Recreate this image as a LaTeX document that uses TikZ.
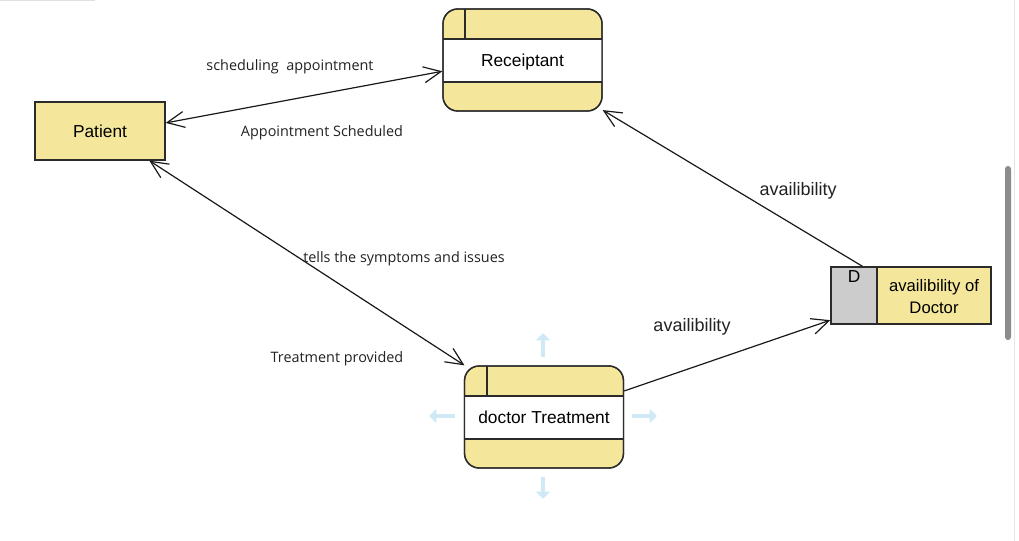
\documentclass[tikz,border=0pt]{standalone}
\usepackage{fontspec}
\setmainfont{Liberation Sans}
\newfontfamily\lblfont{Open Sans}
\usetikzlibrary{arrows.meta,calc}
\definecolor{dfdyellow}{HTML}{F4E79C}
\definecolor{dfdgray}{HTML}{CCCCCC}
\definecolor{dfdline}{HTML}{2B2B2B}
\definecolor{hoverblue}{HTML}{CFE9F7}
\definecolor{lbltext}{HTML}{222222}
\tikzset{
  entitybox/.style={draw=dfdline, line width=1pt, fill=dfdyellow, minimum width=97.5pt, minimum height=43.5pt, inner sep=0pt, font=\fontsize{13pt}{15pt}\selectfont},
  procbox/.style={draw=dfdline, line width=1pt, fill=dfdyellow, rounded corners=11pt, minimum width=119.25pt, minimum height=76.5pt, inner sep=0pt},
  storebox/.style={draw=dfdline, line width=1pt, fill=dfdyellow, minimum width=120pt, minimum height=42.75pt, inner sep=0pt},
  nodetext/.style={font=\fontsize{13pt}{16pt}\selectfont, text=black, align=center, inner sep=0pt, text depth=0pt},
  flowlabel/.style={font=\lblfont\fontsize{10.8pt}{12pt}\selectfont, text=lbltext, inner sep=0pt, text depth=0pt},
  biglabel/.style={font=\fontsize{13.5pt}{16pt}\selectfont, text=lbltext, inner sep=0pt, text depth=0pt},
  flow/.style={draw=black!90, line width=0.9pt, {Straight Barb[length=13pt,width=12pt]}-{Straight Barb[length=13pt,width=12pt]}},
  flowto/.style={draw=black!90, line width=0.9pt, -{Straight Barb[length=13pt,width=12pt]}},
  hover/.style={draw=hoverblue, line width=3.4pt, -{Triangle[length=5.5pt,width=10.5pt]}},
  divider/.style={draw=dfdline, line width=1pt}
}
\begin{document}
\begin{tikzpicture}[x=0.75pt,y=-0.75pt]
\useasboundingbox (0,0) rectangle (1019,541);
\fill[white] (0,0) rectangle (1019,541);
% screenshot chrome
\draw[draw=black!12, line width=0.75pt] (0,0.6) -- (95,0.6);
\draw[draw=black!10, line width=0.75pt] (1014,0) -- (1014,541);
\fill[black!45, rounded corners=2.2pt] (1005,166) rectangle (1011,340);

% Patient
\node[entitybox] (pat) at (100,131) {Patient};

% Receiptant process
\node[procbox] (rec) at (522.5,60) {};
\fill[white] (443.5,39) rectangle (601.5,82);
\draw[divider] (443,39) -- (602,39);
\draw[divider] (443,82) -- (602,82);
\draw[divider] (465,9) -- (465,39);
\node[procbox, fill=none] at (522.5,60) {};
\node[nodetext] (rect) at (522.5,60) {Receiptant};

% doctor Treatment process
\node[procbox] (doc) at (544,417) {};
\fill[white] (464.5,396) rectangle (623.5,439);
\draw[divider] (464,396) -- (624,396);
\draw[divider] (464,439) -- (624,439);
\draw[divider] (487,366) -- (487,396);
\node[procbox, fill=none] at (544,417) {};
\node[nodetext] (doct) at (544,417) {doctor Treatment};

% Data store
\node[storebox] (store) at (911,295.5) {};
\fill[dfdgray] (831,267) rectangle (877,324);
\draw[divider] (877,267) -- (877,324);
\node[storebox, fill=none] at (911,295.5) {};
\node[nodetext] (dlabel) at (854,276.5) {D};
\node[nodetext, font=\fontsize{12.5pt}{16.5pt}\selectfont] (stext) at (934,296) {availibility of\\Doctor};

% hover arrows
\coordinate (hu1) at (543,357); \coordinate (hu2) at (543,333);
\coordinate (hd1) at (543,477); \coordinate (hd2) at (543,499);
\coordinate (hl1) at (455,416); \coordinate (hl2) at (429,416);
\coordinate (hr1) at (632,416); \coordinate (hr2) at (657,416);
\draw[hover] (hu1) -- (hu2);
\draw[hover] (hd1) -- (hd2);
\draw[hover] (hl1) -- (hl2);
\draw[hover] (hr1) -- (hr2);

% flows
\draw[flow] (pat.7.9) -- (rec.188.6);
\draw[flow] (pat.-31.7) -- (doc.147.2);
\draw[flowto] (store.149.8) -- (rec.-32.2);
\draw[flowto] (doc.18.6) -- (store.197.7);

% labels
\node[flowlabel] (l1) at (290,65) {scheduling\ \ appointment};
\node[flowlabel] (l2) at (322,131) {Appointment Scheduled};
\node[flowlabel] (l3) at (404,257) {tells the symptoms and issues};
\node[flowlabel] (l4) at (337,357) {Treatment provided};
\node[biglabel] (l5) at (798,189) {availibility};
\node[biglabel] (l6) at (692,325) {availibility};
\end{tikzpicture}
\end{document}
